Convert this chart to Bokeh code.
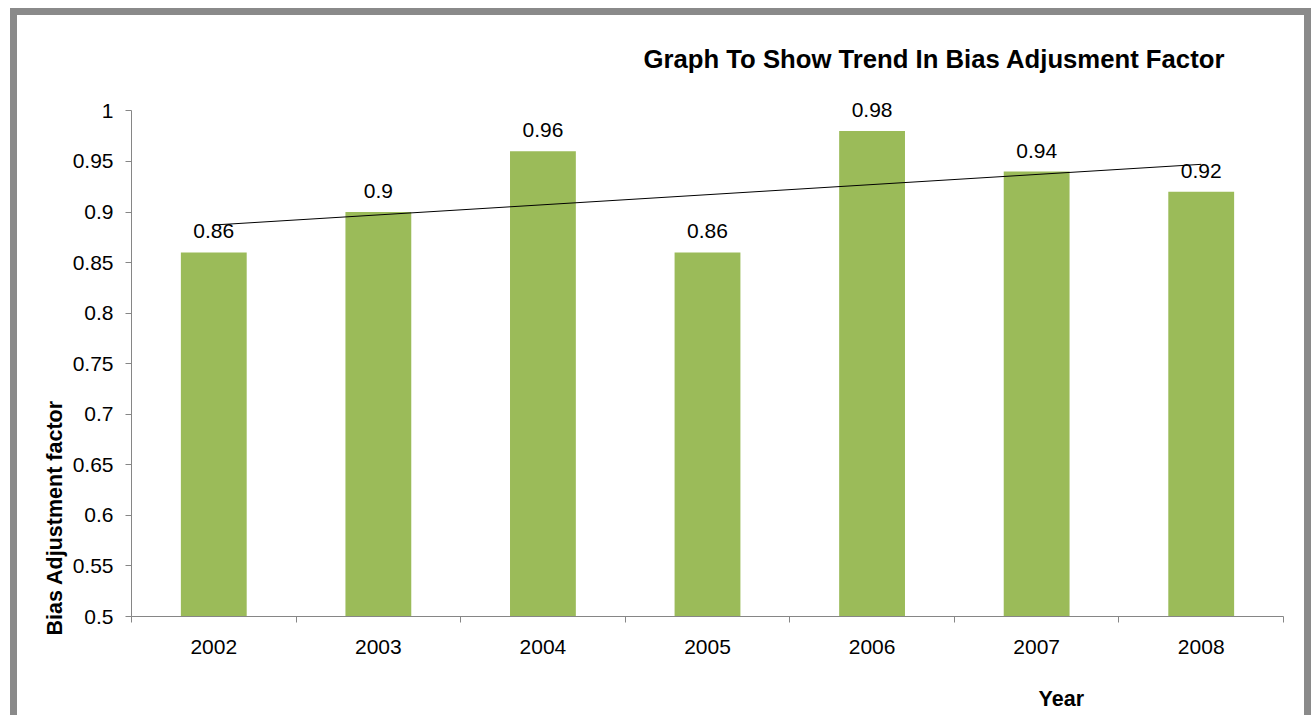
import numpy as np
from bokeh.plotting import figure
from bokeh.models import FixedTicker, Range1d, ColumnDataSource, Title, LinearAxis
from bokeh.core.properties import value
from bokeh.embed import file_html
from bokeh.resources import INLINE

# ---- data ----
years = ["2002", "2003", "2004", "2005", "2006", "2007", "2008"]
values = [0.86, 0.90, 0.96, 0.86, 0.98, 0.94, 0.92]
y_ticks = [0.5, 0.55, 0.6, 0.65, 0.7, 0.75, 0.8, 0.85, 0.9, 0.95, 1.0]
y_tick_labels = ["0.5", "0.55", "0.6", "0.65", "0.7", "0.75", "0.8", "0.85", "0.9", "0.95", "1"]
title_text = "Graph To Show Trend In Bias Adjusment Factor"
y_label = "Bias Adjustment factor"
x_label = "Year"

FONT = "Liberation Sans"
AXIS_GRAY = "#868686"
X_LABEL_POS = 6.15  # horizontal placement of the x-axis title (layout)

x = list(range(1, len(years) + 1))
bounds = [i + 0.5 for i in range(0, len(years) + 1)]

p = figure(width=1287, height=700,
           x_range=Range1d(0.5, len(years) + 0.5), y_range=Range1d(0.5, 1.035),
           output_backend="svg", toolbar_location=None,
           min_border_left=114, min_border_right=21,
           min_border_top=60, min_border_bottom=99)
p.styles = {"outline": "7px solid #8a8a8a",
            "margin-left": "17px", "margin-top": "15px"}
p.outline_line_color = None
p.grid.visible = False
p.background_fill_color = "white"
p.border_fill_color = "white"

src = ColumnDataSource(dict(x=x, top=values,
                            label=[f"{v:g}" for v in values]))
p.vbar(x="x", top="top", bottom=0.0, width=0.4, source=src,
       fill_color="#9BBB59", line_color=None)

slope, intercept = np.polyfit(x, values, 1)
tx = [x[0], x[-1]]
ty = [slope * t + intercept for t in tx]
p.line(tx, ty, line_color="black", line_width=1)

p.text(x="x", y="top", text="label", source=src, text_align="center",
       text_baseline="middle", y_offset=-21, text_font=value(FONT),
       text_font_size="21px", text_color="black")

# axes
xa = p.xaxis[0]
xa.ticker = FixedTicker(ticks=x, minor_ticks=bounds)
xa.major_label_overrides = {xi: yr for xi, yr in zip(x, years)}
xa.major_tick_out = 0
xa.major_tick_in = 0
xa.minor_tick_out = 6
xa.minor_tick_in = 0
xa.minor_tick_line_color = AXIS_GRAY
xa.axis_line_color = AXIS_GRAY
xa.major_label_standoff = 17
xa.major_label_text_font = FONT
xa.major_label_text_font_size = "21px"
xa.major_label_text_color = "black"

# x-axis title drawn as a label-only axis below the main axis
xt = LinearAxis(ticker=FixedTicker(ticks=[X_LABEL_POS], minor_ticks=[]),
                major_label_overrides={X_LABEL_POS: x_label},
                axis_line_color=None, major_tick_line_color=None,
                minor_tick_line_color=None, major_tick_out=0, major_tick_in=0,
                minor_tick_out=0, minor_tick_in=0,
                major_label_standoff=30, major_label_text_font=FONT,
                major_label_text_font_size="21.5px",
                major_label_text_font_style="bold",
                major_label_text_color="black")
p.add_layout(xt, "below")

ya = p.yaxis[0]
ya.bounds = (y_ticks[0], y_ticks[-1])
ya.ticker = FixedTicker(ticks=y_ticks, minor_ticks=[])
ya.major_label_overrides = {t: s for t, s in zip(y_ticks, y_tick_labels)}
ya.major_tick_out = 6
ya.major_tick_in = 0
ya.minor_tick_out = 0
ya.minor_tick_in = 0
ya.major_tick_line_color = AXIS_GRAY
ya.axis_line_color = AXIS_GRAY
ya.major_label_standoff = 12
ya.major_label_text_font = FONT
ya.major_label_text_font_size = "21px"
ya.major_label_text_color = "black"

# titles
p.title = Title(text=title_text, align="left", offset=512, standoff=5.5,
                text_font=FONT, text_font_size="25.7px", text_font_style="bold",
                text_color="black")
p.add_layout(Title(text=y_label, align="left", offset=-19, standoff=6,
                   text_font=FONT, text_font_size="21.5px",
                   text_font_style="bold", text_color="black"), "left")

open("out.html", "w").write(file_html(p, INLINE))
